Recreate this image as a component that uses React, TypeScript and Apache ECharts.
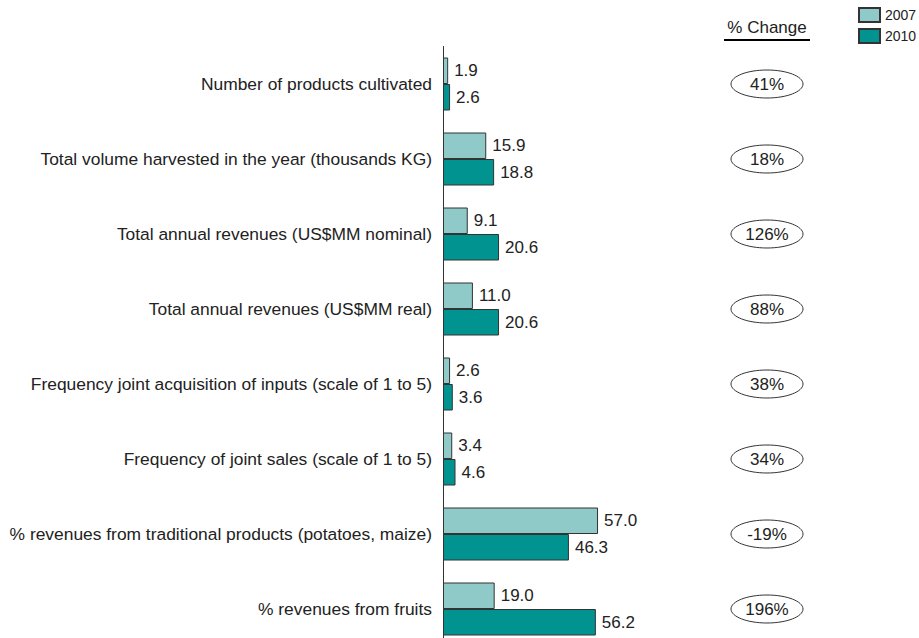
import React, { useEffect, useRef } from "react";
import * as echarts from "echarts";

const categories = [
  "Number of products cultivated",
  "Total volume harvested in the year (thousands KG)",
  "Total annual revenues (US$MM nominal)",
  "Total annual revenues (US$MM real)",
  "Frequency joint acquisition of inputs (scale of 1 to 5)",
  "Frequency of joint sales (scale of 1 to 5)",
  "% revenues from traditional products (potatoes, maize)",
  "% revenues from fruits",
];
const values2007 = [1.9, 15.9, 9.1, 11.0, 2.6, 3.4, 57.0, 19.0];
const values2010 = [2.6, 18.8, 20.6, 20.6, 3.6, 4.6, 46.3, 56.2];
const pctChange = [41, 18, 126, 88, 38, 34, -19, 196];
const seriesNames = ["2007", "2010"];

const FONT = "'Liberation Sans', Arial, Helvetica, sans-serif";
const TEXT = "#222222";
const LIGHT = "#8fcac8";
const DARK = "#00938f";
const BORDER = "#333333";

export default function App() {
  const ref = useRef<HTMLDivElement>(null);
  useEffect(() => {
    if (!ref.current) return;
    const chart = echarts.init(ref.current, null, { renderer: "svg" });
    const valueLabel = {
      show: true,
      position: "right",
      distance: 6,
      fontSize: 17,
      fontFamily: FONT,
      color: TEXT,
      formatter: (p: any) => Number(p.value).toFixed(1),
    };
    chart.setOption({
      animation: false,
      backgroundColor: "#ffffff",
      textStyle: { fontFamily: FONT },
      legend: {
        orient: "vertical",
        left: 858,
        top: 7,
        padding: 0,
        itemWidth: 21,
        itemHeight: 14,
        itemGap: 5,
        icon: "rect",
        data: seriesNames,
        textStyle: { fontSize: 14, color: TEXT, fontFamily: FONT },
      },
      grid: [
        { left: 443, top: 46.5, width: 272, height: 600, containLabel: false, outerBoundsMode: "none" },
        { left: 730, top: 46.5, width: 74, height: 600, containLabel: false, outerBoundsMode: "none" },
      ],
      xAxis: [
        { type: "value", gridIndex: 0, min: 0, max: 100, show: false },
        { type: "value", gridIndex: 1, min: 0, max: 1, show: false },
      ],
      yAxis: [
        {
          type: "category",
          gridIndex: 0,
          data: categories,
          inverse: true,
          axisLine: { show: true, lineStyle: { color: BORDER, width: 1 } },
          axisTick: { show: false },
          splitLine: { show: false },
          axisLabel: { fontSize: 17.4, color: TEXT, fontFamily: FONT, margin: 11 },
        },
        {
          type: "category",
          gridIndex: 1,
          data: categories,
          inverse: true,
          show: false,
        },
      ],
      series: [
        {
          name: seriesNames[0],
          type: "bar",
          xAxisIndex: 0,
          yAxisIndex: 0,
          data: values2007,
          barWidth: 26.5,
          barGap: "0%",
          itemStyle: { color: LIGHT, borderColor: BORDER, borderWidth: 1 },
          label: valueLabel,
        },
        {
          name: seriesNames[1],
          type: "bar",
          xAxisIndex: 0,
          yAxisIndex: 0,
          data: values2010,
          barWidth: 26.5,
          barGap: "0%",
          itemStyle: { color: DARK, borderColor: BORDER, borderWidth: 1 },
          label: valueLabel,
        },
        {
          type: "custom",
          xAxisIndex: 1,
          yAxisIndex: 1,
          data: pctChange.map((p, i) => [0.5, i, p]),
          renderItem: (params: any, api: any) => {
            const c = api.coord([api.value(0), api.value(1)]);
            const v = api.value(2);
            return {
              type: "group",
              children: [
                {
                  type: "ellipse",
                  shape: { cx: c[0], cy: c[1], rx: 36, ry: 14 },
                  style: { fill: "#ffffff", stroke: BORDER, lineWidth: 1 },
                },
                {
                  type: "text",
                  style: {
                    text: `${v}%`,
                    x: c[0],
                    y: c[1],
                    align: "center",
                    verticalAlign: "middle",
                    fontSize: 17,
                    fontFamily: FONT,
                    fill: TEXT,
                  },
                },
              ],
            };
          },
        },
      ],
      graphic: [
        {
          type: "text",
          x: 767,
          y: 27,
          style: {
            text: "% Change",
            align: "center",
            verticalAlign: "middle",
            fontSize: 17,
            fontFamily: FONT,
            fill: TEXT,
          },
        },
        {
          type: "line",
          shape: { x1: 724, y1: 40, x2: 810, y2: 40 },
          style: { stroke: "#000000", lineWidth: 2 },
        },
      ],
    });
    return () => chart.dispose();
  }, []);
  return <div ref={ref} style={{ width: 919, height: 638, position: "absolute", left: 0, top: 0 }} />;
}
